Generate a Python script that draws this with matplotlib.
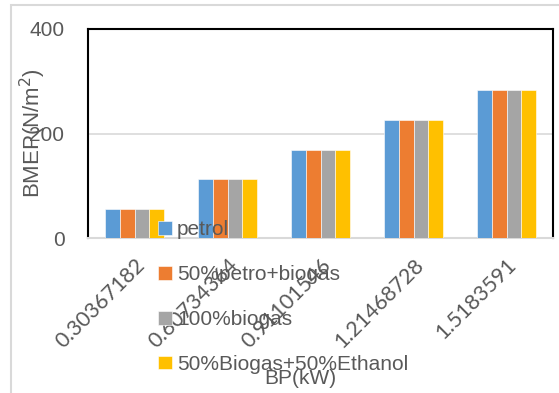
import matplotlib
matplotlib.use("Agg")
import matplotlib.pyplot as plt
import numpy as np
from matplotlib.patches import Rectangle

BP_LABELS = ["0.30367182", "0.60734364", "0.91101546", "1.21468728", "1.5183591"]
SERIES = ["petrol", "50%petro+biogas", "100%biogas", "50%Biogas+50%Ethanol"]
COLORS = ["#5B9BD5", "#ED7D31", "#A5A5A5", "#FFC000"]
BMEP = [
    [56, 113, 169, 226, 283],
    [56, 113, 169, 226, 283],
    [56, 113, 169, 226, 283],
    [56, 113, 169, 226, 283],
]

TXT = "#595959"
plt.rcParams["font.family"] = ["Liberation Sans", "DejaVu Sans"]

fig = plt.figure(figsize=(5.59, 3.93), dpi=100)
fig.patches.append(Rectangle((11 / 559, -0.1), 1.2, 1 - 5 / 393 + 0.1, transform=fig.transFigure,
                             fill=False, edgecolor="#d9d9d9", linewidth=1.5))
ax = fig.add_axes([88 / 559, 1 - 238 / 393, (553 - 88) / 559, (238 - 29) / 393])

x = np.arange(len(BP_LABELS))
bw = 0.161
for i, (name, vals) in enumerate(zip(SERIES, BMEP)):
    ax.bar(x + (i - 1.5) * bw, vals, width=bw, color=COLORS[i], edgecolor="white",
           linewidth=0.4, label=name, zorder=3)

ax.set_xlim(-0.5, 4.5)
ax.set_ylim(0, 400)
ax.set_yticks([0, 200, 400])
ax.set_yticklabels(["0", "200", "400"], fontsize=15, color=TXT)
ax.yaxis.grid(True, color="#d9d9d9", linewidth=1.2, zorder=0)
ax.tick_params(axis="y", length=0, pad=17)
ax.set_xticks(x)
ax.set_xticklabels(BP_LABELS, rotation=45, ha="right", rotation_mode="anchor",
                   fontsize=15.5, color=TXT, family="Lato")
ax.tick_params(axis="x", length=0, pad=12)

for s in ("left", "top", "right"):
    ax.spines[s].set_color("black")
    ax.spines[s].set_linewidth(1.5)
ax.spines["bottom"].set_color("#d9d9d9")
ax.spines["bottom"].set_linewidth(1.5)

ax.set_ylabel("BMEP(N/m$^2$)", fontsize=16, color=TXT)
ax.yaxis.set_label_coords(-40 / 465, 0.5)
ax.set_xlabel("BP(kW)", fontsize=15, color=TXT)
ax.xaxis.set_label_coords((300 - 88) / 465, -(369 - 238) / 209)

leg = ax.legend(loc="upper left", bbox_to_anchor=(150 / 559, 1 - 212 / 393),
                bbox_transform=fig.transFigure, frameon=False, fontsize=15,
                handlelength=0.65, handleheight=0.65, handletextpad=0.25,
                labelspacing=1.24, borderaxespad=0)
for t in leg.get_texts():
    t.set_color(TXT)

fig.savefig("out.png", dpi=100)
